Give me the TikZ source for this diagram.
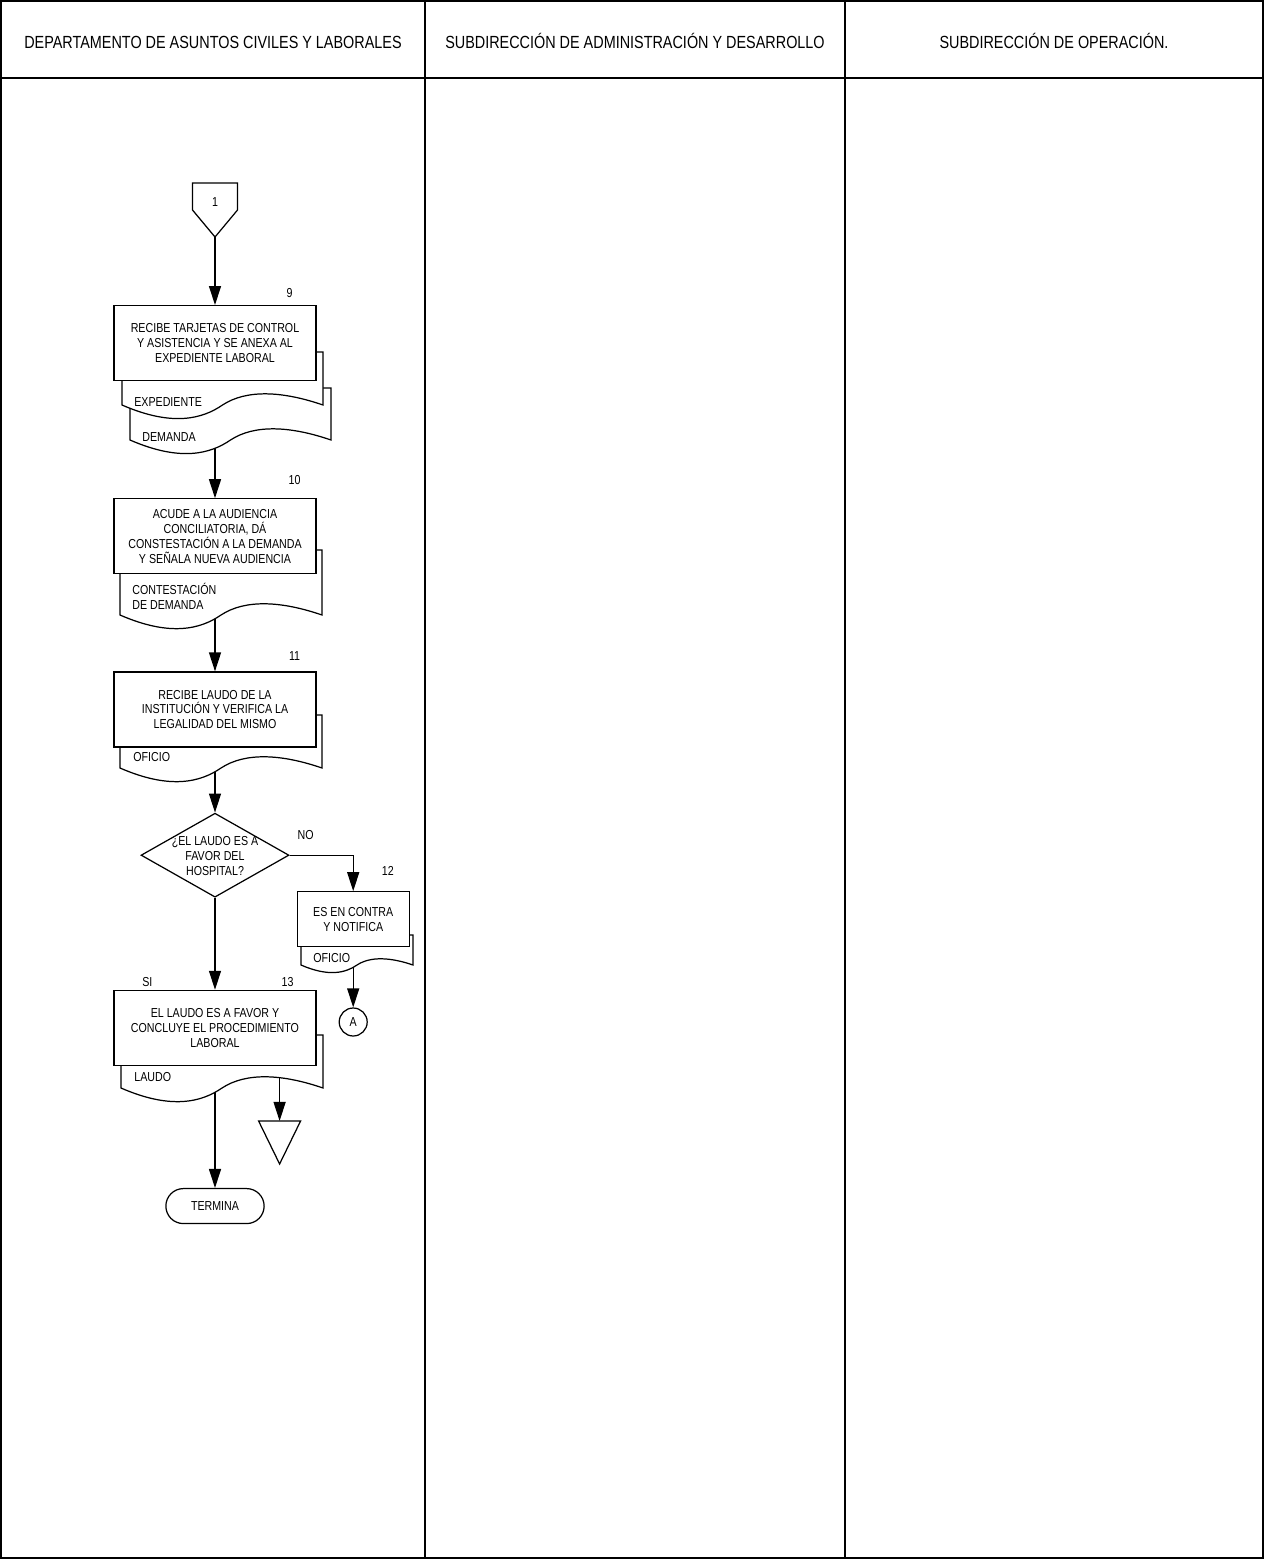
\documentclass[tikz,border=0pt]{standalone}
\usepackage{fontspec}
\newfontfamily\narrowsf[FakeStretch=0.82]{Liberation Sans}
\usetikzlibrary{positioning, arrows.meta, shapes.geometric, shapes.misc, calc, backgrounds}

% document sheet with a wavy lower edge: left, top, right, bottom
\newcommand\docsheet[4]{%
  \draw[outline] (#1,#2) -- (#1,#4)
    .. controls ({#1+0.25*(#3-#1)},{#4+0.109*(#3-#1)}) and ({#1+0.4*(#3-#1)},{#4+0.069*(#3-#1)}) .. ({#1+0.5*(#3-#1)},#4)
    .. controls ({#1+0.62*(#3-#1)},{#4-0.079*(#3-#1)}) and ({#1+0.8*(#3-#1)},{#4-0.069*(#3-#1)}) .. (#3,#4)
    -- (#3,#2) -- cycle;}

\begin{document}
\begin{tikzpicture}[
  x=0.02cm, y=-0.02cm,
  lane/.style={draw=black, line width=1pt},
  lanehead/.style={font=\narrowsf\fontsize{10}{12}\selectfont, anchor=base},
  outline/.style={draw=black, fill=white, line width=0.7pt},
  proc/.style={outline, minimum width=4.04cm, minimum height=1.5cm, align=center,
               inner sep=2pt, font=\narrowsf\fontsize{7.4}{8.5}\selectfont},
  smallproc/.style={proc, minimum width=2.24cm, minimum height=1.1cm},
  decision/.style={outline, diamond, minimum width=2.96cm, minimum height=1.68cm, inner sep=0pt},
  terminal/.style={outline, rounded rectangle, minimum width=2.2cm, minimum height=0.7cm,
                   font=\narrowsf\fontsize{7.4}{8.5}\selectfont},
  connector/.style={outline, circle, minimum size=0.56cm, inner sep=0pt,
                    font=\narrowsf\fontsize{7.4}{8.5}\selectfont},
  txt/.style={font=\narrowsf\fontsize{7.4}{8.5}\selectfont, inner sep=0pt},
  doctxt/.style={txt, anchor=west, align=left},
  arr/.style={-{Triangle[length=0.38cm, width=0.24cm]}, line width=0.7pt},
]
\useasboundingbox (0,0) rectangle (1265,1560);

% --- Lanes ---
\draw[lane] (1,1) rectangle (1263,1558);
\draw[lane] (1,78) -- (1263,78);
\draw[lane] (425,1) -- (425,1558);
\draw[lane] (845,1) -- (845,1558);
\node[lanehead] (h1) at (213,48) {DEPARTAMENTO DE ASUNTOS CIVILES Y LABORALES};
\node[lanehead] (h2) at (635,48) {SUBDIRECCIÓN DE ADMINISTRACIÓN Y DESARROLLO};
\node[lanehead] (h3) at (1054,48) {SUBDIRECCIÓN DE OPERACIÓN.};

% --- Documents (behind the boxes) ---
\docsheet{130}{388}{331}{440}
\docsheet{122}{352}{323}{405}
\docsheet{120}{550}{322}{615}
\docsheet{120}{715}{322}{768}
\docsheet{301}{935}{413}{965}
\docsheet{121}{1035}{323}{1088}
\node[doctxt] (d9a) at (134,402) {EXPEDIENTE};
\node[doctxt] (d9b) at (142,437) {DEMANDA};
\node[doctxt] (d10) at (132,596) {CONTESTACIÓN\\DE DEMANDA};
\node[doctxt] (d11) at (133,757) {OFICIO};
\node[doctxt] (d12) at (313,958) {OFICIO};
\node[doctxt] (d13) at (134,1077) {LAUDO};

% --- Off-page connector 1 ---
\coordinate (c1tip) at (215,237);
\draw[outline] (c1tip) -- ++(-22.5,-27) -- ++(0,-27) -- ++(45,0) -- ++(0,27) -- cycle;
\node[txt] (c1) at ($(c1tip)+(0,-35)$) {1};

% --- Steps ---
\node[proc, below=1.36cm of c1tip] (b9) {RECIBE TARJETAS DE CONTROL\\Y  ASISTENCIA Y SE ANEXA AL\\EXPEDIENTE LABORAL};
\node[proc, below=2.34cm of b9] (b10) {ACUDE A LA AUDIENCIA\\CONCILIATORIA, DÁ\\CONSTESTACIÓN A LA DEMANDA\\Y SEÑALA NUEVA AUDIENCIA};
\node[proc, below=1.94cm of b10] (b11) {RECIBE LAUDO DE LA\\INSTITUCIÓN Y VERIFICA LA\\LEGALIDAD DEL MISMO};
\node[decision, below=1.30cm of b11] (dec) {};
\node[txt, align=center] (dectxt) at ($(dec)+(0,1)$) {¿EL LAUDO ES A\\FAVOR DEL\\HOSPITAL?};
\node[smallproc, below right=0.72cm and 0.14cm of dec.east] (b12) {ES EN CONTRA\\Y NOTIFICA};
\node[proc, below=1.84cm of dec] (b13) {EL LAUDO ES A FAVOR Y\\CONCLUYE EL PROCEDIMIENTO\\LABORAL};
\node[connector, below=1.2cm of b12] (conA) {A};
\node[terminal, below=2.44cm of b13] (term) {TERMINA};

% --- Archive ---
\coordinate[below left=1.1cm and 0.74cm of b13.south east] (arch);
\draw[outline] (arch) -- ++(21,0) -- ++(-21,43) -- ++(-21,-43) -- cycle;

% --- Step numbers and answers ---
\node[txt] (n9) at ($(b9.north east)+(-27,-12)$) {9};
\node[txt] (n10) at ($(b10.north east)+(-22,-18)$) {10};
\node[txt] (n11) at ($(b11.north east)+(-22,-15)$) {11};
\node[txt] (n12) at ($(b12.north east)+(-22,-20)$) {12};
\node[txt] (n13) at ($(b13.north east)+(-29,-8)$) {13};
\node[txt] (no) at ($(dec.east)+(16,-20)$) {NO};
\node[txt] (si) at ($(b13.north west)+(34,-8)$) {SI};

% --- Connectors ---
\begin{scope}[on background layer]
  \draw[arr] (c1tip) -- (b9.north);
  \draw[arr] (b9.south) -- (b10.north);
  \draw[arr] (b10.south) -- (b11.north);
  \draw[arr] (b11.south) -- (dec.north);
  \draw[arr] (dec.east) -| (b12.north);
  \draw[arr] (dec.south) -- (b13.north);
  \draw[arr] (b12.south) -- (conA.north);
  \draw[arr] (b13.south) -- (term.north);
  \draw[arr] (b13.south -| arch) -- (arch);
\end{scope}

\end{tikzpicture}
\end{document}
